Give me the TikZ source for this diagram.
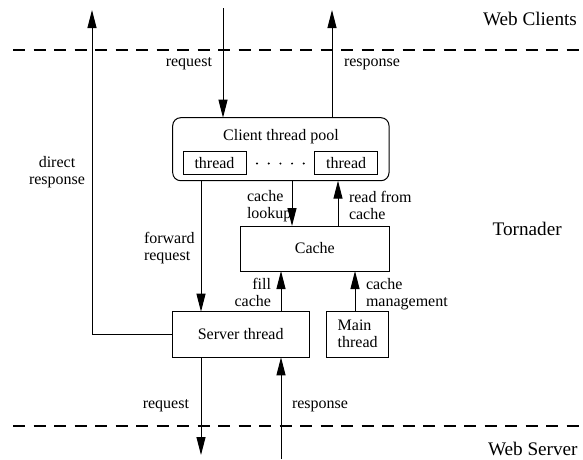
\documentclass[tikz,border=0pt]{standalone}
\usepackage{fontspec}
\setmainfont{Liberation Serif}
\usetikzlibrary{arrows.meta}
\begin{document}
\begin{tikzpicture}[x=1pt,y=-1pt,
  line width=1pt,
  every node/.style={inner sep=0pt, outer sep=0pt},
  lbl/.style={font=\fontsize{16}{17}\selectfont},
  big/.style={font=\fontsize{19.2}{21}\selectfont},
  box/.style={draw, line width=1pt, font=\fontsize{16}{17}\selectfont},
  flow/.style={-{Triangle[length=18pt,width=9pt]}, line width=1pt},
  sep/.style={line width=2pt, dash pattern=on 12.3pt off 8.2pt}]
\useasboundingbox[fill=white] (0,0) rectangle (583,459);

% separators
\coordinate (tl) at (13,49.5);
\coordinate (tr) at (583,49.5);
\coordinate (bl) at (13,426);
\coordinate (br) at (583,426);
\draw[sep] (tl) -- (tr);
\draw[sep] (bl) -- (br);

% region labels
\node[big, anchor=base west] (wc) at (483,25.7) {Web Clients};
\node[big, anchor=base west] (tor) at (492.7,235.7) {Tornader};
\node[big, anchor=base west] (ws) at (488,455) {Web Server};

% boxes
\node[box, rounded corners=8pt, minimum width=216.3pt, minimum height=63pt] (pool) at (280.85,149.2) {};
\node[lbl, anchor=base] (pooltitle) at (281,140.7) {Client thread pool};
\node[box, minimum width=63pt, minimum height=23.3pt] (thl) at (214.5,163.3) {thread};
\node[box, minimum width=63pt, minimum height=23.3pt] (thr) at (346.2,163.3) {thread};
\foreach \i in {0,...,4} \fill (257+\i*11.7,163.5) circle (1.1pt);

\node[box, minimum width=148.3pt, minimum height=45pt] (cache) at (314.85,248.5) {Cache};
\node[box, minimum width=136.7pt, minimum height=45.6pt] (server) at (240.65,334.5) {Server thread};
\node[box, minimum width=62pt, minimum height=45.6pt, align=left, text depth=2.5pt] (main) at (357.7,334.5) {Main\\thread};

% free ends
\coordinate (reqtop) at (223,8);
\coordinate (resptop) at (332,10);
\coordinate (dirtop) at (92,10);
\coordinate (reqbot) at (201,455);
\coordinate (respbot) at (281,459);

% connectors
\draw[flow] (reqtop) -- (reqtop |- pool.north);
\draw[flow] (resptop |- pool.north) -- (resptop);
\draw[flow] (server.west) -- (dirtop |- server.west) -- (dirtop);
\draw[flow] (201,0 |- pool.south) -- (201,0 |- server.north);
\draw[flow] (292,0 |- pool.south) -- (292,0 |- cache.north);
\draw[flow] (338,0 |- cache.north) -- (338,0 |- pool.south);
\draw[flow] (281,0 |- server.north) -- (281,0 |- cache.south);
\draw[flow] (355,0 |- main.north) -- (355,0 |- cache.south);
\draw[flow] (reqbot |- server.south) -- (reqbot);
\draw[flow] (respbot) -- (respbot |- server.south);

% connector labels
\node[lbl, anchor=base east] (l1) at (212,66) {request};
\node[lbl, anchor=base west] (l2) at (344,66) {response};
\node[lbl, anchor=north, align=center] (l3) at (57,156.4) {direct\\response};
\node[lbl, anchor=north west, align=left] (l4) at (247,190.8) {cache\\lookup};
\node[lbl, anchor=north west, align=left] (l5) at (349,190.8) {read from\\cache};
\node[lbl, anchor=north west, align=left] (l6) at (144,232.5) {forward\\request};
\node[lbl, anchor=north east, align=right] (l7) at (271,278) {fill\\cache};
\node[lbl, anchor=north west, align=left] (l8) at (366,278) {cache\\management};
\node[lbl, anchor=base east] (l9) at (189,408) {request};
\node[lbl, anchor=base west] (l10) at (292,408) {response};
\end{tikzpicture}
\end{document}
